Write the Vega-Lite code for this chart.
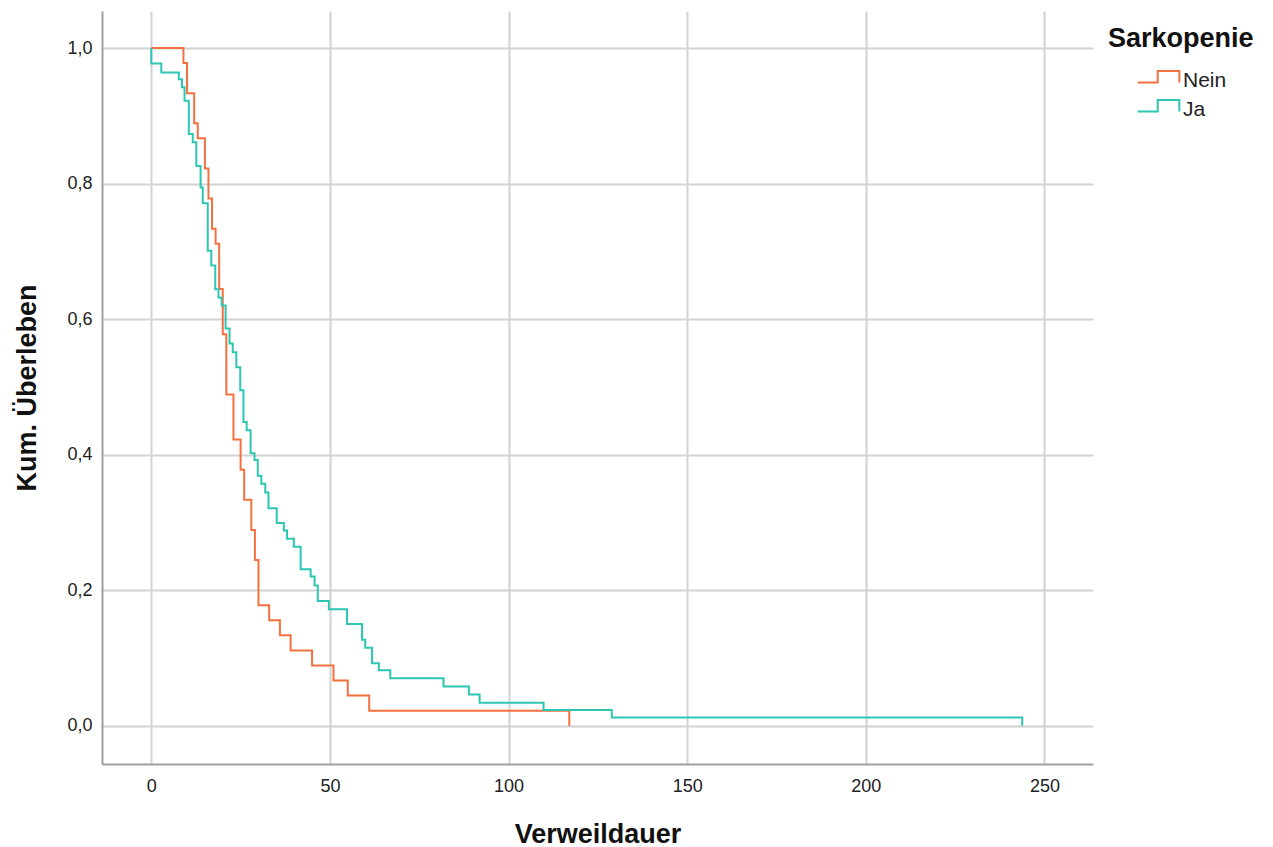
{
  "$schema": "https://vega.github.io/schema/vega-lite/v6.json",
  "autosize": {"type": "none"},
  "padding": {"left": 102, "top": 11, "right": 180, "bottom": 83},
  "width": 991,
  "height": 753,
  "background": "white",
  "config": {
    "font": "Liberation Sans",
    "view": {"stroke": null},
    "axis": {
      "domainColor": "#a0a0a0",
      "domainWidth": 2,
      "gridColor": "#d2d2d2",
      "gridWidth": 2,
      "ticks": false,
      "labelFont": "Liberation Sans",
      "labelFontSize": 18,
      "labelColor": "#222222",
      "titleFont": "Liberation Sans",
      "titleFontSize": 27,
      "titleFontWeight": "bold",
      "titleColor": "#111111"
    }
  },
  "data": {
    "values": [
      {"k": 0, "t": 0, "s": 1.0, "g": "Nein"},
      {"k": 1, "t": 9, "s": 0.9778, "g": "Nein"},
      {"k": 2, "t": 10, "s": 0.9333, "g": "Nein"},
      {"k": 3, "t": 12, "s": 0.8889, "g": "Nein"},
      {"k": 4, "t": 13, "s": 0.8667, "g": "Nein"},
      {"k": 5, "t": 15, "s": 0.8222, "g": "Nein"},
      {"k": 6, "t": 16, "s": 0.7778, "g": "Nein"},
      {"k": 7, "t": 17, "s": 0.7333, "g": "Nein"},
      {"k": 8, "t": 18, "s": 0.7111, "g": "Nein"},
      {"k": 9, "t": 19, "s": 0.6444, "g": "Nein"},
      {"k": 10, "t": 20, "s": 0.5778, "g": "Nein"},
      {"k": 11, "t": 21, "s": 0.4889, "g": "Nein"},
      {"k": 12, "t": 23, "s": 0.4222, "g": "Nein"},
      {"k": 13, "t": 25, "s": 0.3778, "g": "Nein"},
      {"k": 14, "t": 26, "s": 0.3333, "g": "Nein"},
      {"k": 15, "t": 28, "s": 0.2889, "g": "Nein"},
      {"k": 16, "t": 29, "s": 0.2444, "g": "Nein"},
      {"k": 17, "t": 30, "s": 0.1778, "g": "Nein"},
      {"k": 18, "t": 33, "s": 0.1556, "g": "Nein"},
      {"k": 19, "t": 36, "s": 0.1333, "g": "Nein"},
      {"k": 20, "t": 39, "s": 0.1111, "g": "Nein"},
      {"k": 21, "t": 45, "s": 0.0889, "g": "Nein"},
      {"k": 22, "t": 51, "s": 0.0667, "g": "Nein"},
      {"k": 23, "t": 55, "s": 0.0444, "g": "Nein"},
      {"k": 24, "t": 61, "s": 0.0222, "g": "Nein"},
      {"k": 25, "t": 117, "s": 0.0, "g": "Nein"},
      {"k": 0, "t": 0, "s": 1.0, "g": "Ja"},
      {"k": 1, "t": 0, "s": 0.977, "g": "Ja"},
      {"k": 2, "t": 2.8, "s": 0.964, "g": "Ja"},
      {"k": 3, "t": 7.7, "s": 0.954, "g": "Ja"},
      {"k": 4, "t": 8.6, "s": 0.942, "g": "Ja"},
      {"k": 5, "t": 9.3, "s": 0.922, "g": "Ja"},
      {"k": 6, "t": 10.5, "s": 0.873, "g": "Ja"},
      {"k": 7, "t": 11.6, "s": 0.861, "g": "Ja"},
      {"k": 8, "t": 12.6, "s": 0.826, "g": "Ja"},
      {"k": 9, "t": 13.8, "s": 0.794, "g": "Ja"},
      {"k": 10, "t": 14.4, "s": 0.771, "g": "Ja"},
      {"k": 11, "t": 15.8, "s": 0.701, "g": "Ja"},
      {"k": 12, "t": 16.8, "s": 0.679, "g": "Ja"},
      {"k": 13, "t": 17.9, "s": 0.644, "g": "Ja"},
      {"k": 14, "t": 18.8, "s": 0.632, "g": "Ja"},
      {"k": 15, "t": 19.7, "s": 0.62, "g": "Ja"},
      {"k": 16, "t": 20.8, "s": 0.586, "g": "Ja"},
      {"k": 17, "t": 21.9, "s": 0.564, "g": "Ja"},
      {"k": 18, "t": 22.8, "s": 0.551, "g": "Ja"},
      {"k": 19, "t": 23.8, "s": 0.529, "g": "Ja"},
      {"k": 20, "t": 24.9, "s": 0.495, "g": "Ja"},
      {"k": 21, "t": 25.8, "s": 0.448, "g": "Ja"},
      {"k": 22, "t": 26.7, "s": 0.436, "g": "Ja"},
      {"k": 23, "t": 27.8, "s": 0.402, "g": "Ja"},
      {"k": 24, "t": 28.9, "s": 0.392, "g": "Ja"},
      {"k": 25, "t": 29.8, "s": 0.369, "g": "Ja"},
      {"k": 26, "t": 30.8, "s": 0.357, "g": "Ja"},
      {"k": 27, "t": 31.9, "s": 0.344, "g": "Ja"},
      {"k": 28, "t": 32.8, "s": 0.321, "g": "Ja"},
      {"k": 29, "t": 35.1, "s": 0.299, "g": "Ja"},
      {"k": 30, "t": 37.1, "s": 0.288, "g": "Ja"},
      {"k": 31, "t": 38.0, "s": 0.276, "g": "Ja"},
      {"k": 32, "t": 39.9, "s": 0.264, "g": "Ja"},
      {"k": 33, "t": 41.8, "s": 0.231, "g": "Ja"},
      {"k": 34, "t": 44.6, "s": 0.22, "g": "Ja"},
      {"k": 35, "t": 45.7, "s": 0.207, "g": "Ja"},
      {"k": 36, "t": 46.6, "s": 0.184, "g": "Ja"},
      {"k": 37, "t": 49.7, "s": 0.172, "g": "Ja"},
      {"k": 38, "t": 54.8, "s": 0.15, "g": "Ja"},
      {"k": 39, "t": 59.0, "s": 0.127, "g": "Ja"},
      {"k": 40, "t": 59.9, "s": 0.115, "g": "Ja"},
      {"k": 41, "t": 61.8, "s": 0.092, "g": "Ja"},
      {"k": 42, "t": 63.7, "s": 0.082, "g": "Ja"},
      {"k": 43, "t": 66.9, "s": 0.07, "g": "Ja"},
      {"k": 44, "t": 81.8, "s": 0.058, "g": "Ja"},
      {"k": 45, "t": 88.9, "s": 0.046, "g": "Ja"},
      {"k": 46, "t": 91.9, "s": 0.034, "g": "Ja"},
      {"k": 47, "t": 109.8, "s": 0.023, "g": "Ja"},
      {"k": 48, "t": 128.9, "s": 0.012, "g": "Ja"},
      {"k": 49, "t": 243.8, "s": 0.0, "g": "Ja"}
    ]
  },
  "mark": {"type": "line", "interpolate": "step-after", "strokeWidth": 2, "clip": true},
  "encoding": {
    "x": {
      "field": "t",
      "type": "quantitative",
      "scale": {"domain": [-13.8, 263.6], "nice": false, "zero": false},
      "axis": {
        "title": "Verweildauer",
        "values": [0, 50, 100, 150, 200, 250],
        "labelPadding": 13,
        "titlePadding": 26,
        "grid": true
      }
    },
    "y": {
      "field": "s",
      "type": "quantitative",
      "scale": {"domain": [-0.0565, 1.0546], "nice": false, "zero": false},
      "axis": {
        "title": "Kum. Überleben",
        "values": [0, 0.2, 0.4, 0.6, 0.8, 1.0],
        "labelExpr": "replace(format(datum.value, '.1f'), '.', ',')",
        "labelPadding": 10,
        "titlePadding": 25,
        "grid": true
      }
    },
    "color": {
      "field": "g",
      "type": "nominal",
      "scale": {"domain": ["Nein", "Ja"], "range": ["#f3703f", "#2cc6b2"]},
      "legend": {
        "title": "Sarkopenie",
        "orient": "none",
        "legendX": 1006,
        "legendY": 15,
        "titleFont": "Liberation Sans",
        "titleFontSize": 27,
        "titleFontWeight": "bold",
        "titleColor": "#111111",
        "titlePadding": 16,
        "labelFont": "Liberation Sans",
        "labelFontSize": 21,
        "labelColor": "#222222",
        "labelOffset": 52,
        "rowPadding": 5,
        "symbolType": "M1.73,0.2H3.64V-0.9H5.7V0.2",
        "symbolSize": 441,
        "symbolStrokeWidth": 2,
        "symbolFillColor": "transparent"
      }
    },
    "order": {"field": "k", "type": "quantitative"}
  }
}
